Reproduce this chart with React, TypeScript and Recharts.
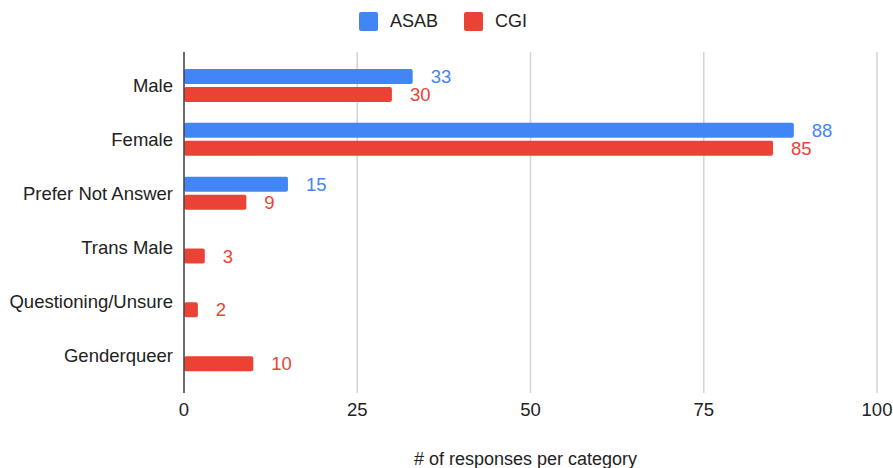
import { BarChart, Bar, XAxis, YAxis, CartesianGrid, Legend, LabelList } from 'recharts'

const categories = ['Male', 'Female', 'Prefer Not Answer', 'Trans Male', 'Questioning/Unsure', 'Genderqueer']
const asabValues = [33, 88, 15, null, null, null]
const cgiValues = [30, 85, 9, 3, 2, 10]
const xTicks = [0, 25, 50, 75, 100]

const BLUE = '#4285F4'
const RED = '#EA4335'
const FONT = "Arial, 'Liberation Sans', sans-serif"

const data = categories.map((name, i) => ({
  name,
  ASAB: asabValues[i],
  CGI: cgiValues[i],
}))

const series = [
  { key: 'ASAB', color: BLUE },
  { key: 'CGI', color: RED },
]

function makeLabel(color: string) {
  return (props: any) => {
    const { x, y, width, height, value } = props
    if (value == null || value === 0) return null
    return (
      <text
        x={Number(x) + Number(width) + 18}
        y={Number(y) + Number(height) / 2}
        dominantBaseline="central"
        fill={color}
        fontSize={18.5}
        fontFamily={FONT}
      >
        {value}
      </text>
    )
  }
}

function LegendContent() {
  return (
    <div
      style={{
        height: 52,
        display: 'flex',
        justifyContent: 'center',
        alignItems: 'flex-start',
        paddingTop: 12,
        paddingLeft: 9,
        boxSizing: 'border-box',
        fontFamily: FONT,
        fontSize: 18,
        color: '#222',
      }}
    >
      {series.map((s, i) => (
        <div key={s.key} style={{ display: 'flex', alignItems: 'center', marginLeft: i ? 26 : 0 }}>
          <span
            style={{
              width: 19,
              height: 19,
              borderRadius: 2,
              background: s.color,
              display: 'inline-block',
              marginRight: 12,
            }}
          />
          <span style={{ lineHeight: '19px' }}>{s.key}</span>
        </div>
      ))}
    </div>
  )
}

export default function App() {
  return (
    <div style={{ position: 'absolute', left: 0, top: 0, background: '#fff' }}>
      <BarChart
        width={893}
        height={468}
        data={data}
        layout="vertical"
        margin={{ top: 0, right: 16, left: 0, bottom: 0 }}
        barSize={15}
        barGap={3}
      >
        <Legend verticalAlign="top" align="center" content={<LegendContent />} />
        <CartesianGrid horizontal={false} stroke="#d4d4d4" strokeWidth={1.5} />
        <XAxis
          type="number"
          domain={[0, 100]}
          ticks={xTicks}
          axisLine={false}
          tickLine={false}
          tickMargin={4}
          height={75}
          tick={{ fill: '#222', fontSize: 18.5, fontFamily: FONT }}
          label={{
            value: '# of responses per category',
            position: 'insideBottom',
            offset: 3,
            dx: -5,
            fill: '#222',
            fontSize: 18,
            fontFamily: FONT,
          }}
        />
        <YAxis
          type="category"
          dataKey="name"
          width={184}
          padding={{ top: 7, bottom: 11 }}
          axisLine={{ stroke: '#444', strokeWidth: 1.5 }}
          tickLine={false}
          tickMargin={5}
          tick={{ fill: '#222', fontSize: 18.5, fontFamily: FONT }}
          interval={0}
        />
        {series.map((s) => (
          <Bar key={s.key} dataKey={s.key} fill={s.color} radius={2} isAnimationActive={false}>
            <LabelList dataKey={s.key} content={makeLabel(s.color)} />
          </Bar>
        ))}
      </BarChart>
    </div>
  )
}
